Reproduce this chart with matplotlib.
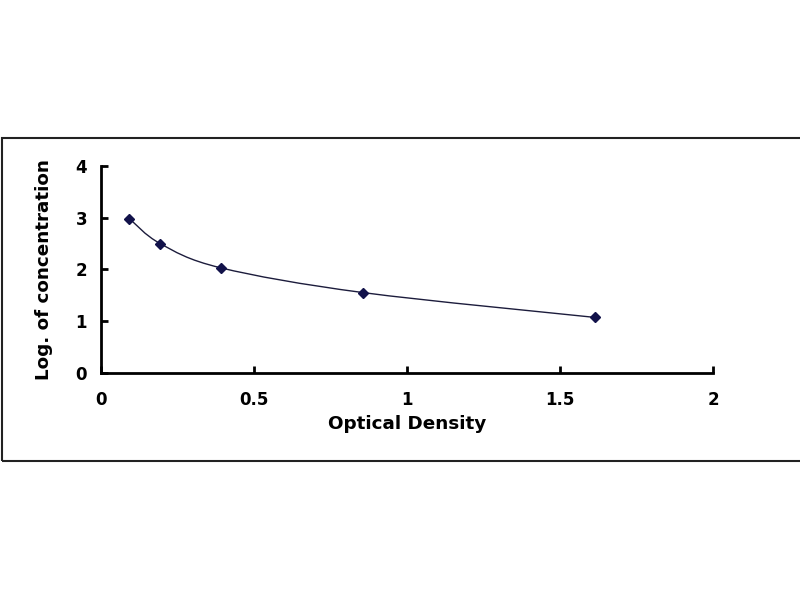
import matplotlib
matplotlib.use("Agg")
import matplotlib.pyplot as plt
from matplotlib.path import Path
from matplotlib.patches import PathPatch, Rectangle
import numpy as np

# Data
od = [0.093, 0.193, 0.391, 0.857, 1.614]
log_conc = [2.98, 2.50, 2.03, 1.55, 1.07]
x_ticks = [0, 0.5, 1, 1.5, 2]
x_tick_labels = ["0", "0.5", "1", "1.5", "2"]
y_ticks = [0, 1, 2, 3, 4]
y_tick_labels = ["0", "1", "2", "3", "4"]
x_label = "Optical Density"
y_label = "Log. of concentration"

plt.rcParams['font.family'] = ['DejaVu Sans']
plt.rcParams['font.weight'] = 'bold'

fig = plt.figure(figsize=(8, 6), dpi=100)
ax = fig.add_axes([101/800, 1-372.7/600, (713-101)/800, (372.7-166)/600])

# smooth curve through points (Catmull-Rom style Bezier, like Excel's smoothed line)
P = np.column_stack([od, log_conc])
n = len(P)
verts = [tuple(P[0])]
codes = [Path.MOVETO]
for i in range(n - 1):
    p0 = P[i - 1] if i > 0 else P[i]
    p1 = P[i]
    p2 = P[i + 1]
    p3 = P[i + 2] if i + 2 < n else P[i + 1]
    c1 = p1 + (p2 - p0) / 6.0
    c2 = p2 - (p3 - p1) / 6.0
    verts += [tuple(c1), tuple(c2), tuple(p2)]
    codes += [Path.CURVE4] * 3
ax.add_patch(PathPatch(Path(verts, codes), facecolor='none', edgecolor='#1c1c3c', lw=1.0, zorder=2))
ax.plot(od, log_conc, linestyle='none', marker='D', markersize=5.5, color='#12124a', zorder=3)

ax.set_xlim(0, 2)
ax.set_ylim(0, 4)
ax.set_xticks(x_ticks)
ax.set_xticklabels(x_tick_labels)
ax.set_yticks(y_ticks)
ax.set_yticklabels(y_tick_labels)
for s in ['top', 'right']:
    ax.spines[s].set_visible(False)
for s in ['left', 'bottom']:
    ax.spines[s].set_linewidth(2)
    ax.spines[s].set_color('black')
ax.tick_params(direction='in', length=5, width=2, labelsize=12, colors='black')
ax.tick_params(axis='x', pad=13)
ax.tick_params(axis='y', pad=10)
for lab in ax.get_xticklabels() + ax.get_yticklabels():
    lab.set_fontweight('bold')

ax.set_xlabel(x_label, fontsize=13.2, fontweight='bold', labelpad=4.5)
ax.set_ylabel(y_label, fontsize=13.2, fontweight='bold', labelpad=16)

fig.add_artist(Rectangle((1.5/800, 1-461/600), 800/800, (461-138.3)/600,
                         transform=fig.transFigure, fill=False, edgecolor='#222222', lw=1.5))

fig.savefig("out.png", dpi=100)
